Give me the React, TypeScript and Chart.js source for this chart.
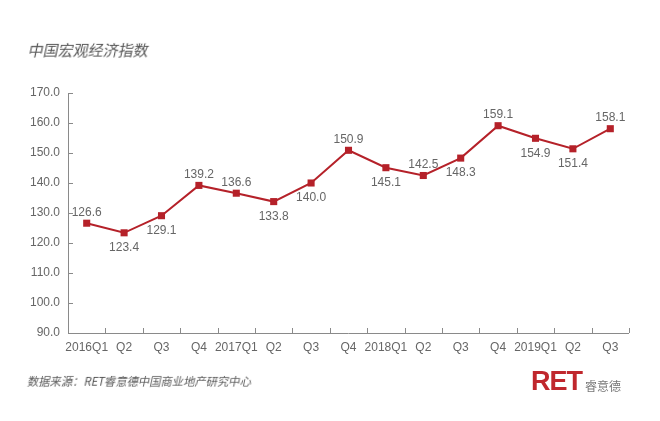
import React, { useEffect, useRef } from "react";
import { Chart, registerables } from "chart.js";

Chart.register(...registerables);

const categories = ["2016Q1", "Q2", "Q3", "Q4", "2017Q1", "Q2", "Q3", "Q4", "2018Q1", "Q2", "Q3", "Q4", "2019Q1", "Q2", "Q3"];
const values = [126.6, 123.4, 129.1, 139.2, 136.6, 133.8, 140.0, 150.9, 145.1, 142.5, 148.3, 159.1, 154.9, 151.4, 158.1];
const labelAbove = [true, false, false, true, true, false, false, true, false, true, false, true, false, false, true];
const yMin = 90;
const yMax = 170;
const yStep = 10;

const AXIS = "#8a8a8a";
const TEXT = "#666666";
const RED = "#b52129";

const innerTicks = {
  id: "innerTicks",
  afterDraw(chart: any) {
    const ctx = chart.ctx;
    const x = chart.scales.x;
    const y = chart.scales.y;
    const area = chart.chartArea;
    ctx.save();
    ctx.strokeStyle = AXIS;
    ctx.lineWidth = 1;
    ctx.beginPath();
    ctx.moveTo(area.left + 0.5, area.top);
    ctx.lineTo(area.left + 0.5, area.bottom);
    y.ticks.forEach((t: any, i: number) => {
      const py = Math.round(y.getPixelForTick(i)) + 0.5;
      ctx.moveTo(area.left, py);
      ctx.lineTo(area.left + 5, py);
    });
    ctx.moveTo(area.left, area.bottom + 0.5);
    ctx.lineTo(area.right, area.bottom + 0.5);
    const n = categories.length;
    for (let i = 1; i <= n; i++) {
      const px = Math.round(x.getPixelForValue(i - 0.5)) + 0.5;
      ctx.moveTo(px, area.bottom);
      ctx.lineTo(px, area.bottom - 5);
    }
    ctx.stroke();

    const meta = chart.getDatasetMeta(0);
    ctx.fillStyle = TEXT;
    ctx.font = "12px 'Liberation Sans', Arial, sans-serif";
    ctx.textAlign = "center";
    ctx.textBaseline = "middle";
    meta.data.forEach((pt: any, i: number) => {
      const v = values[i];
      const dy = labelAbove[i] ? -11 : 15;
      ctx.fillText(v.toFixed(1), pt.x, pt.y + dy);
    });
    ctx.restore();
  },
};

export default function App() {
  const ref = useRef<HTMLCanvasElement>(null);
  useEffect(() => {
    const chart = new Chart(ref.current!, {
      type: "line",
      data: {
        labels: categories,
        datasets: [
          {
            data: values,
            borderColor: RED,
            backgroundColor: RED,
            borderWidth: 2,
            pointStyle: "rect",
            pointRadius: 5,
            pointBackgroundColor: RED,
            pointBorderColor: RED,
            pointBorderWidth: 0,
            tension: 0,
          },
        ],
      },
      options: {
        responsive: false,
        animation: false,
        layout: { padding: { top: 93, right: 31, left: 0, bottom: 0 } },
        plugins: { legend: { display: false }, tooltip: { enabled: false } },
        scales: {
          x: {
            offset: true,
            grid: { display: false, drawTicks: false },
            border: { display: false },
            ticks: {
              color: TEXT,
              font: { family: "'Liberation Sans', Arial, sans-serif", size: 12 },
              padding: 7,
              maxRotation: 0,
              autoSkip: false,
            },
            afterFit(scale: any) {
              scale.height = 88;
            },
          },
          y: {
            min: yMin,
            max: yMax,
            grid: { display: false, drawTicks: false },
            border: { display: false },
            ticks: {
              stepSize: yStep,
              color: TEXT,
              font: { family: "'Liberation Sans', Arial, sans-serif", size: 12 },
              padding: 8,
              callback: (v: any) => Number(v).toFixed(1),
            },
            afterFit(scale: any) {
              scale.width = 68;
            },
          },
        },
      },
      plugins: [innerTicks],
    });
    return () => chart.destroy();
  }, []);

  return (
    <div style={{ position: "fixed", left: 0, top: 0, width: 660, height: 421, background: "#fff" }}>
      <canvas ref={ref} width={660} height={421} style={{ position: "absolute", left: 0, top: 0 }} />
      <div
        style={{
          position: "absolute",
          left: 29,
          top: 39,
          fontFamily: "'Noto Sans CJK SC', sans-serif",
          fontSize: 15,
          color: "#555",
          transform: "skewX(-12deg)",
        }}
      >
        中国宏观经济指数
      </div>
      <div
        style={{
          position: "absolute",
          left: 28,
          top: 373,
          fontFamily: "'Noto Sans CJK SC', sans-serif",
          fontSize: 11.3,
          color: "#555",
          transform: "skewX(-12deg)",
        }}
      >
        数据来源：RET睿意德中国商业地产研究中心
      </div>
      <div
        style={{
          position: "absolute",
          left: 531,
          top: 369,
          display: "flex",
          alignItems: "flex-end",
        }}
      >
        <span
          style={{
            fontFamily: "'Liberation Sans', Arial, sans-serif",
            fontWeight: "bold",
            fontSize: 27,
            color: "#c0272d",
            lineHeight: "24px",
            letterSpacing: -1,
          }}
        >
          RET
        </span>
        <span
          style={{
            fontFamily: "'Noto Sans CJK SC', sans-serif",
            fontSize: 12,
            color: "#777",
            marginLeft: 3,
            lineHeight: "14px",
          }}
        >
          睿意德
        </span>
      </div>
    </div>
  );
}
